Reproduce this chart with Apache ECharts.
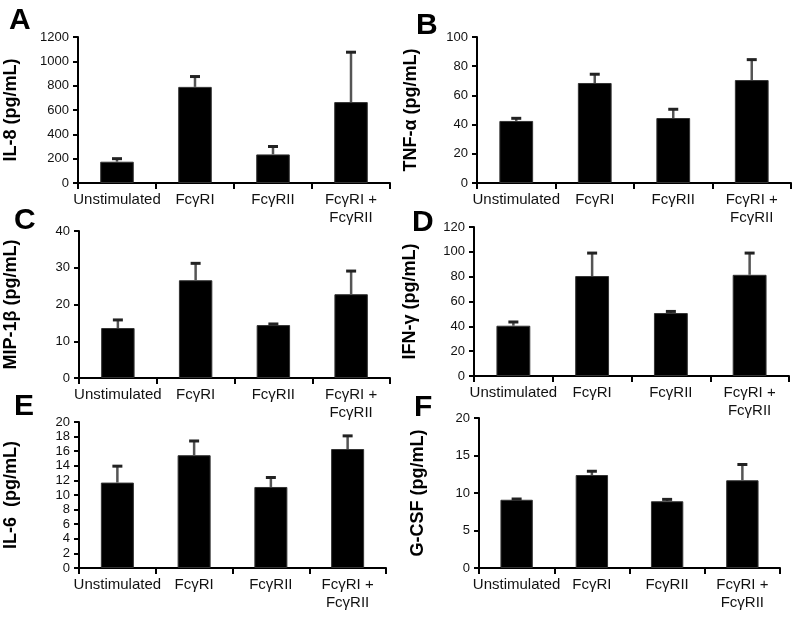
<!DOCTYPE html>
<html>
<head>
<meta charset="utf-8">
<script src="https://cdn.jsdelivr.net/npm/echarts@6/dist/echarts.min.js"></script>
<style>html,body{margin:0;padding:0;background:#fff;}#c{width:800px;height:627px;}</style>
</head>
<body>
<div id="c"></div>
<script>
const categories = ['Unstimulated', 'FcγRI', 'FcγRII', 'FcγRI +\nFcγRII'];

const il8 = [175, 790, 235, 665];
const il8Err = [25, 85, 65, 410];
const tnf = [42.5, 68.5, 44.5, 70.5];
const tnfErr = [1.8, 6, 6, 14];
const mip = [13.6, 26.6, 14.4, 22.8];
const mipErr = [2.2, 4.6, 0.3, 6.3];
const ifn = [40.5, 80.5, 50.7, 81.5];
const ifnErr = [3, 18.5, 1.3, 17.5];
const il6 = [11.7, 15.45, 11.1, 16.3];
const il6Err = [2.25, 1.95, 1.3, 1.8];
const gcsf = [9.1, 12.4, 8.9, 11.7];
const gcsfErr = [0.1, 0.5, 0.25, 2.1];

const yNames = ['IL-8 (pg/mL)', 'TNF-α (pg/mL)', 'MIP-1β (pg/mL)', 'IFN-γ (pg/mL)', 'IL-6  (pg/mL)', 'G-CSF (pg/mL)'];
const yMax = [1200, 100, 40, 120, 20, 20];
const yStep = [200, 20, 10, 20, 2, 5];
const panelLetters = ['A', 'B', 'C', 'D', 'E', 'F'];

const values = [il8, tnf, mip, ifn, il6, gcsf];
const errors = [il8Err, tnfErr, mipErr, ifnErr, il6Err, gcsfErr];

const FONT = '"Liberation Sans", Arial, Helvetica, sans-serif';

const grids = [
  {left: 78, top: 37, width: 312, height: 146},
  {left: 477, top: 37, width: 314, height: 146},
  {left: 79, top: 231, width: 311, height: 147},
  {left: 474, top: 227, width: 315, height: 149},
  {left: 79, top: 422, width: 307, height: 146},
  {left: 479, top: 418, width: 301, height: 150}
];
const nameX = [20, 420, 20, 419, 20, 427];
const letterPos = [[9, 6], [416, 11], [14, 206], [412, 208], [14, 392], [414, 393]];

const option = {
  backgroundColor: '#fff',
  animation: false,
  textStyle: {fontFamily: FONT},
  grid: grids.map(g => Object.assign({containLabel: false, outerBoundsMode: 'none'}, g)),
  xAxis: grids.map((g, i) => ({
    type: 'category',
    gridIndex: i,
    data: categories,
    axisLine: {lineStyle: {color: '#000', width: 2}},
    axisTick: {show: true, length: 6, lineStyle: {color: '#000', width: 2}, alignWithLabel: false},
    axisLabel: {fontSize: 15, color: '#111', margin: 8, lineHeight: 18, fontFamily: FONT, interval: 0},
    splitLine: {show: false}
  })),
  yAxis: grids.map((g, i) => ({
    type: 'value',
    gridIndex: i,
    min: 0,
    max: yMax[i],
    interval: yStep[i],
    name: yNames[i],
    nameLocation: 'middle',
    nameGap: g.left - nameX[i],
    nameTextStyle: {fontSize: 18, fontWeight: 'bold', color: '#000', fontFamily: FONT},
    axisLine: {show: true, lineStyle: {color: '#000', width: 2}},
    axisTick: {show: true, length: 5, lineStyle: {color: '#000', width: 2}},
    axisLabel: {fontSize: 13, color: '#111', margin: 9, fontFamily: FONT, formatter: v => String(v)},
    splitLine: {show: false}
  })),
  graphic: panelLetters.map((t, i) => ({
    type: 'text',
    left: letterPos[i][0],
    top: letterPos[i][1],
    style: {text: t, fontSize: 30, fontWeight: 'bold', fill: '#000', fontFamily: FONT}
  })),
  series: []
};

values.forEach((vals, i) => {
  option.series.push({
    type: 'bar',
    xAxisIndex: i,
    yAxisIndex: i,
    data: vals,
    barWidth: '43%',
    itemStyle: {color: '#000', borderColor: '#333', borderWidth: 1}
  });
  option.series.push({
    type: 'custom',
    xAxisIndex: i,
    yAxisIndex: i,
    z: 5,
    data: vals.map((v, k) => [k, v, errors[i][k]]),
    encode: {x: 0, y: 1},
    renderItem: function (params, api) {
      const x = api.value(0), v = api.value(1), e = api.value(2);
      const p0 = api.coord([x, v]);
      const p1 = api.coord([x, v + e]);
      return {
        type: 'group',
        children: [
          {type: 'line', shape: {x1: p0[0], y1: p0[1], x2: p1[0], y2: p1[1]}, style: {stroke: '#555', lineWidth: 2.5}},
          {type: 'line', shape: {x1: p1[0] - 5, y1: p1[1], x2: p1[0] + 5, y2: p1[1]}, style: {stroke: '#222', lineWidth: 3}}
        ]
      };
    }
  });
});

const chart = echarts.init(document.getElementById('c'), null, {renderer: 'canvas'});
chart.setOption(option);
</script>
</body>
</html>
